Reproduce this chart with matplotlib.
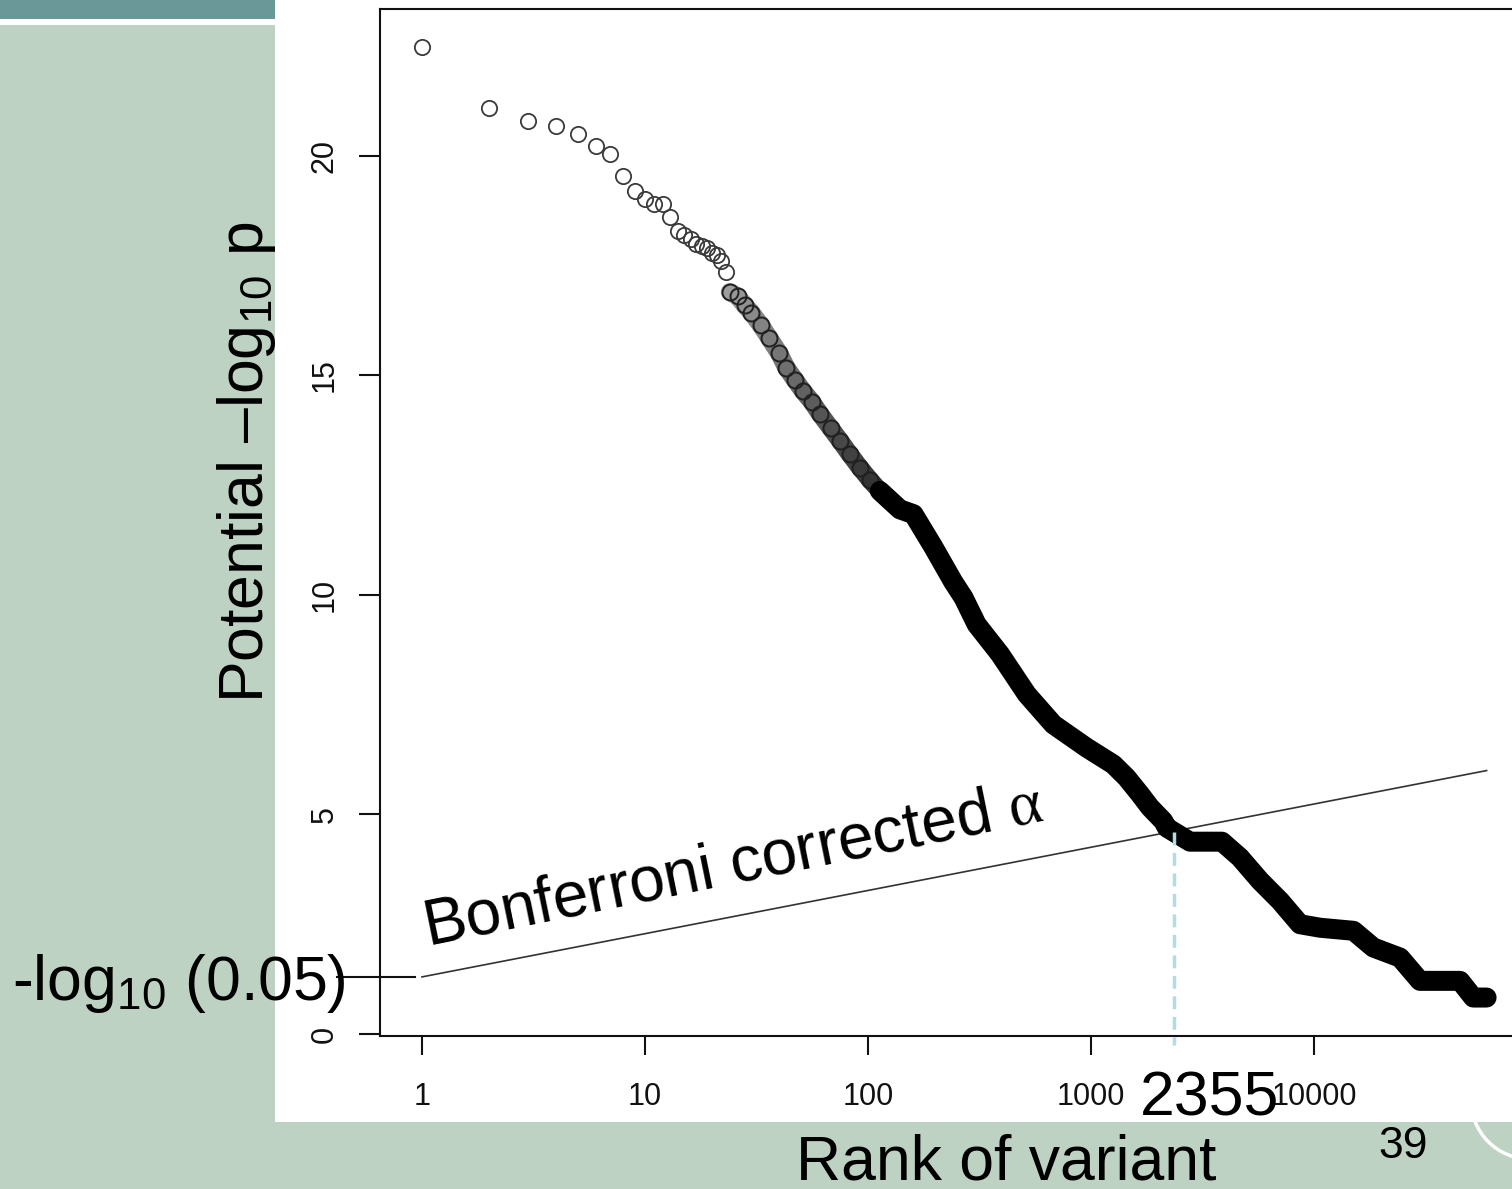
import numpy as np
import matplotlib
matplotlib.use("Agg")
import matplotlib.pyplot as plt
from matplotlib.patches import Rectangle, Arc
from matplotlib.lines import Line2D
from matplotlib.collections import LineCollection
import matplotlib.transforms as mtransforms

plt.rcParams['font.family'] = ['Liberation Sans', 'DejaVu Sans']
plt.rcParams['mathtext.fontset'] = 'custom'
plt.rcParams['mathtext.rm'] = 'Liberation Sans'
plt.rcParams['mathtext.sf'] = 'Liberation Serif'
plt.rcParams['mathtext.default'] = 'regular'

# ---------------- data ----------------
sparse_rank = [1, 2, 3, 4, 5, 6, 7, 8, 9, 10, 11, 12, 13, 14, 15, 16, 17, 18,
               19, 20, 21, 22, 23]
sparse_val = [22.48, 21.09, 20.80, 20.68, 20.51, 20.23, 20.05, 19.54, 19.19,
              19.01, 18.91, 18.91, 18.61, 18.28, 18.20, 18.10, 18.00, 17.95,
              17.90, 17.80, 17.75, 17.60, 17.35]

mid_rank = [24, 26, 28, 30, 33, 36, 40, 43, 47, 51, 56, 61, 68, 75, 83, 92, 102,
            113, 125, 139]
mid_val = [16.90, 16.80, 16.60, 16.43, 16.15, 15.86, 15.50, 15.18, 14.90, 14.65,
           14.40, 14.12, 13.80, 13.51, 13.20, 12.90, 12.62, 12.37, 12.15, 11.95]

dense_rank = [113, 139, 160, 196, 241, 268, 307, 391, 515, 678, 957, 1259,
              1445, 1660, 1841, 2109, 2188, 2780, 3865, 4656, 5728, 7047, 8650,
              10640, 15030, 18450, 24320, 29850, 45190, 51760, 59430]
dense_val = [12.37, 11.95, 11.84, 11.10, 10.30, 9.94, 9.33, 8.65, 7.74,
             7.05, 6.52, 6.14, 5.84, 5.46, 5.16, 4.85, 4.70, 4.38, 4.38, 4.02,
             3.49, 3.03, 2.50, 2.42, 2.35, 1.97, 1.74, 1.21, 1.21, 0.83, 0.83]

bonf_rank = [1, 59430]
bonf_val = [1.30, 6.00]

threshold_val = 1.30          # -log10(0.05)
cross_rank = 2355
cross_val = 4.60

yticks = [0, 5, 10, 15, 20]
xticks = [1, 10, 100, 1000, 10000]
xticklabels = ["1", "10", "100", "1000", "10000"]

# ---------------- figure ----------------
W, H = 1512, 1189
fig = plt.figure(figsize=(W / 100, H / 100), dpi=100)
GREEN = '#bdd2c2'
TEAL = '#6a9797'
fig.patch.set_facecolor(GREEN)

def px_rect(x0, y0, x1, y1, color, z=0):
    r = Rectangle((x0 / W, 1 - y1 / H), (x1 - x0) / W, (y1 - y0) / H,
                  transform=fig.transFigure, facecolor=color, edgecolor='none',
                  zorder=z)
    fig.add_artist(r)

px_rect(275, 0, W, 1122, 'white', z=0)
px_rect(0, 0, 275, 19, TEAL, z=0)
px_rect(0, 19, 275, 25, 'white', z=0)

# decorative arc at bottom right
arc = Arc((1530 / W, 1 - 1100 / H), 2 * 59 / W, 2 * 59 / H, theta1=90, theta2=270,
          transform=fig.transFigure, color='white', lw=2.5, zorder=1)
fig.add_artist(arc)

ax = fig.add_axes([380 / W, 1 - 1036 / H, (1533 - 380) / W, (1036 - 9.3) / H])
ax.set_facecolor('white')
ax.set_zorder(2)
ax.set_xscale('log')
ax.set_xlim(10 ** -0.1883, 10 ** 4.982)
ax.set_ylim(-0.046, 23.34)

for s in ['left', 'top', 'bottom', 'right']:
    ax.spines[s].set_linewidth(1.5)
    ax.spines[s].set_color('#111111')

ax.set_yticks(yticks)
ax.set_yticklabels([str(v) for v in yticks], rotation=90, va='center',
                   fontsize=22, color='#111111')
ax.set_xticks(xticks)
ax.set_xticklabels(xticklabels, fontsize=22, color='#111111')
ax.xaxis.set_minor_locator(matplotlib.ticker.NullLocator())
ax.tick_params(axis='y', length=15, width=1.5, pad=14, color='#111111')
ax.tick_params(axis='x', length=14, width=1.5, pad=19, color='#111111')

# Bonferroni line
ax.plot(bonf_rank, bonf_val, color='#333333', lw=1.2, zorder=3)

# mid band (overlapping circles, darkening with rank)
pts = np.column_stack([np.log10(mid_rank), mid_val])
segs = [[(mid_rank[i], mid_val[i]), (mid_rank[i + 1], mid_val[i + 1])]
        for i in range(len(mid_rank) - 1)]
grays = np.linspace(0.62, 0.15, len(segs))
lc = LineCollection(segs, colors=[(g, g, g) for g in grays], linewidths=13,
                    capstyle='round', joinstyle='round', zorder=4)
ax.add_collection(lc)
ax.plot(mid_rank, mid_val, 'o', ms=11.5, mfc='none', mec='#202020', mew=1.4, zorder=5)
ax.plot(dense_rank, dense_val, color='black', lw=14.4, solid_capstyle='round',
        solid_joinstyle='round', zorder=6)

# sparse points
ax.plot(sparse_rank, sparse_val, 'o', ms=11, mfc='none', mec='#3a3a3a', mew=1.3,
        zorder=5)

# crossing dashed line
ax.plot([cross_rank, cross_rank], [cross_val, -0.25], color='#b0dce2', lw=2.5,
        dashes=(3.7, 2.2), clip_on=False, zorder=7)

# threshold tick at -log10(0.05)
trans = mtransforms.blended_transform_factory(ax.transAxes, ax.transData)
ax.add_line(Line2D([-0.0373, 0.0304], [threshold_val, threshold_val],
                   transform=trans, color='#111111', lw=1.5, clip_on=False, zorder=7))

# ---------------- texts ----------------
BIG = 45
fig.text(263 / W, 1 - 462 / H, 'Potential –log$_{10}$ p', rotation=90,
         rotation_mode='anchor', ha='center', va='baseline', fontsize=BIG,
         color='black', zorder=1)
fig.text(12 / W, 1 - 1000 / H, '-log$_{10}$ (0.05)', ha='left', va='baseline',
         fontsize=BIG, color='black', zorder=10)
fig.text(1210 / W, 1 - 1116 / H, '2355', ha='center', va='baseline',
         fontsize=BIG, color='black', zorder=10)
fig.text(1006 / W, 1 - 1180 / H, 'Rank of variant', ha='center', va='baseline',
         fontsize=BIG, color='black', zorder=10)
fig.text(1403 / W, 1 - 1158 / H, '39', ha='center', va='baseline',
         fontsize=32, color='black', zorder=10)
fig.text(428 / W, 1 - 946 / H, r'Bonferroni corrected $\mathsf{α}$', rotation=11.5,
         rotation_mode='anchor', ha='left', va='baseline', fontsize=46,
         color='black', zorder=10)

fig.savefig('out.png', dpi=100, facecolor=fig.get_facecolor())
